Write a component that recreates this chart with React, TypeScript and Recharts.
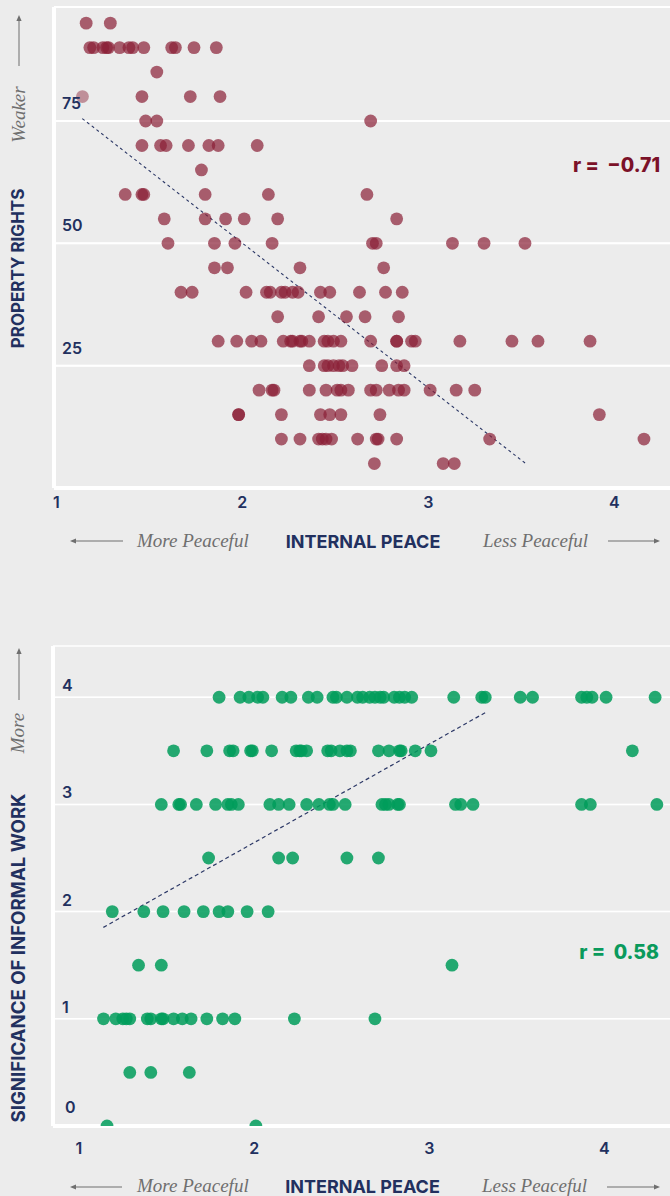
import React from 'react';
import { ScatterChart, Scatter, XAxis, YAxis, CartesianGrid, ReferenceLine } from 'recharts';

// ---------- Chart 1: Property rights vs internal peace ----------
const pr95 = [1.16, 1.29];
const pr90 = [1.18, 1.2, 1.25, 1.27, 1.28, 1.34, 1.39, 1.41, 1.47, 1.62, 1.64, 1.74, 1.86];
const pr85 = [1.54];
const pr80 = [1.46, 1.72, 1.88];
const pr80Faint = [1.14];
const pr75 = [1.48, 1.54, 2.69];
const pr70 = [1.46, 1.56, 1.59, 1.71, 1.82, 1.87, 2.08];
const pr65 = [1.78];
const pr60 = [1.37, 1.46, 1.47, 1.8, 2.14, 2.67];
const pr55 = [1.58, 1.8, 1.91, 2.01, 2.19, 2.83];
const pr50 = [1.6, 1.85, 1.96, 2.16, 2.7, 2.72, 3.13, 3.3, 3.52];
const pr45 = [1.85, 1.92, 2.31, 2.76];
const pr40 = [1.67, 1.73, 2.02, 2.13, 2.15, 2.21, 2.23, 2.27, 2.3, 2.42, 2.47, 2.63, 2.77, 2.86];
const pr35 = [2.19, 2.41, 2.56, 2.66, 2.84];
const pr30 = [1.87, 1.97, 2.05, 2.1, 2.22, 2.26, 2.27, 2.31, 2.32, 2.36, 2.44, 2.46, 2.49, 2.53, 2.69, 2.83, 2.83, 2.91, 2.93, 3.17, 3.45, 3.59, 3.87];
const pr25 = [2.36, 2.44, 2.46, 2.49, 2.52, 2.54, 2.59, 2.75, 2.83, 2.87];
const pr20 = [2.09, 2.16, 2.17, 2.36, 2.45, 2.51, 2.53, 2.57, 2.69, 2.72, 2.79, 2.84, 2.87, 3.01, 3.15, 3.25];
const pr15 = [1.98, 1.98, 2.21, 2.42, 2.47, 2.53, 2.74, 3.92];
const pr10 = [2.21, 2.31, 2.41, 2.43, 2.45, 2.48, 2.62, 2.72, 2.73, 2.83, 3.33, 4.16];
const pr05 = [2.71, 3.08, 3.14];

const rightsTicks = [25, 50, 75];
const rightsTrendPeace = [1.139, 3.524];
const rightsTrendScore = [75.5, 5.0];
const rightsR = 'r =\u00A0\u00A0\u22120.71';

// ---------- Chart 2: Significance of informal work vs internal peace ----------
const iw40 = [1.8, 1.92, 1.97, 2.02, 2.05, 2.16, 2.21, 2.31, 2.36, 2.45, 2.47, 2.53, 2.59, 2.62, 2.66, 2.69, 2.72, 2.74, 2.8, 2.83, 2.86, 2.9, 3.14, 3.3, 3.32, 3.52, 3.59, 3.87, 3.9, 3.93, 4.01, 4.29];
const iw35 = [1.54, 1.73, 1.86, 1.88, 1.98, 1.99, 2.1, 2.24, 2.26, 2.27, 2.3, 2.42, 2.44, 2.49, 2.53, 2.55, 2.71, 2.77, 2.83, 2.84, 2.92, 3.01, 4.16];
const iw30 = [1.47, 1.57, 1.58, 1.67, 1.78, 1.85, 1.87, 1.91, 2.09, 2.14, 2.2, 2.3, 2.37, 2.43, 2.45, 2.52, 2.73, 2.75, 2.77, 2.82, 2.83, 3.15, 3.18, 3.25, 3.87, 3.92, 4.3];
const iw25 = [1.74, 2.14, 2.22, 2.53, 2.71];
const iw20 = [1.19, 1.37, 1.48, 1.6, 1.71, 1.8, 1.85, 1.96, 2.08];
const iw15 = [1.34, 1.47, 3.13];
const iw10 = [1.14, 1.21, 1.25, 1.27, 1.29, 1.39, 1.41, 1.47, 1.48, 1.54, 1.59, 1.64, 1.73, 1.82, 1.89, 2.23, 2.69];
const iw05 = [1.29, 1.41, 1.63];
const iw00 = [1.16, 2.01];

const workTicks = [0, 1, 2, 3, 4];
const workTrendPeace = [1.139, 3.323];
const workTrendScore = [1.853, 3.859];
const workR = 'r =\u00A0\u00A00.58';

const peaceTicks = [1, 2, 3, 4];

function buildRows(rows: [number, number[]][]) {
  return rows.flatMap(([score, xs]) => xs.map((peace) => ({ peace, score })));
}

const rightsData = buildRows([
  [95, pr95], [90, pr90], [85, pr85], [80, pr80], [75, pr75], [70, pr70], [65, pr65],
  [60, pr60], [55, pr55], [50, pr50], [45, pr45], [40, pr40], [35, pr35], [30, pr30],
  [25, pr25], [20, pr20], [15, pr15], [10, pr10], [5, pr05],
]);
const rightsFaintData = buildRows([[80, pr80Faint]]);

const workData = buildRows([
  [4, iw40], [3.5, iw35], [3, iw30], [2.5, iw25], [2, iw20], [1.5, iw15], [1, iw10], [0.5, iw05], [0, iw00],
]);

const NAVY = '#22305f';
const GRAY = '#6f6f6f';
const BG = '#ececec';
const SANS = 'Inter, "Noto Sans", sans-serif';
const SERIF = '"Liberation Serif", serif';

const makeXTick = (baseline: number) => (props: any) => (
  <text x={props.x} y={baseline} textAnchor="middle" fill={NAVY} fontFamily={SANS} fontWeight={600} fontSize={16}>
    {props.payload.value}
  </text>
);

const makeYTick = (offset: number, zeroOffset: number) => (props: any) => {
  const v = props.payload.value;
  return (
    <text x={v === 0 ? 65 : 62} y={props.y - (v === 0 ? zeroOffset : offset)} textAnchor="start" fill={NAVY} fontFamily={SANS} fontWeight={600} fontSize={16}>
      {v}
    </text>
  );
};

const makeDot = (fill: string, opacity: number) => (p: any) => (
  <circle cx={p.cx} cy={p.cy} r={6.4} fill={fill} fillOpacity={opacity} />
);

function Arrow({ x1, y1, x2, y2 }: { x1: number; y1: number; x2: number; y2: number }) {
  const dx = x2 - x1;
  const dy = y2 - y1;
  const len = Math.hypot(dx, dy);
  const ux = dx / len;
  const uy = dy / len;
  const hl = 6;
  const hw = 2.6;
  const bx = x2 - ux * hl;
  const by = y2 - uy * hl;
  return (
    <g>
      <line x1={x1} y1={y1} x2={bx} y2={by} stroke={GRAY} strokeWidth={1} />
      <polygon
        points={`${x2},${y2} ${bx - uy * hw},${by + ux * hw} ${bx + uy * hw},${by - ux * hw}`}
        fill={GRAY}
      />
    </g>
  );
}

export default function App() {
  return (
    <div style={{ position: 'absolute', left: 0, top: 0, width: 670, height: 1196, background: BG, overflow: 'hidden' }}>
      {/* Chart 1 */}
      <div style={{ position: 'absolute', left: 0, top: 0 }}>
        <ScatterChart width={670} height={560} margin={{ top: 7, right: 0, bottom: 0, left: 0 }}>
          <CartesianGrid horizontal vertical={false} stroke="#ffffff" strokeWidth={2} />
          <XAxis
            type="number"
            dataKey="peace"
            domain={[0.987, 4.3]}
            ticks={peaceTicks}
            interval={0}
            allowDataOverflow
            tickLine={false}
            axisLine={{ stroke: '#ffffff', strokeWidth: 4 }}
            height={72}
            tick={makeXTick(508)}
          />
          <YAxis
            type="number"
            dataKey="score"
            domain={[0, 98.3]}
            ticks={rightsTicks}
            interval={0}
            allowDataOverflow
            tickLine={false}
            axisLine={{ stroke: '#ffffff', strokeWidth: 4 }}
            width={54}
            tick={makeYTick(12, 12)}
          />
          <Scatter data={rightsFaintData} isAnimationActive={false} shape={makeDot('#8a1f36', 0.45)} />
          <Scatter data={rightsData} isAnimationActive={false} shape={makeDot('#8a1f36', 0.7)} />
          {rightsTicks.map((t) => (
            <ReferenceLine key={t} y={t} stroke="#ffffff" strokeOpacity={0.45} strokeWidth={2} />
          ))}
          <ReferenceLine
            segment={[
              { x: rightsTrendPeace[0], y: rightsTrendScore[0] },
              { x: rightsTrendPeace[1], y: rightsTrendScore[1] },
            ]}
            stroke="#2c3866"
            strokeWidth={1.1}
            strokeDasharray="3 3"
          />
        </ScatterChart>
      </div>

      {/* Chart 2 */}
      <div style={{ position: 'absolute', left: 0, top: 600 }}>
        <ScatterChart width={670} height={596} margin={{ top: 46, right: 0, bottom: 0, left: 0 }}>
          <CartesianGrid horizontal vertical={false} stroke="#ffffff" strokeWidth={1.5} />
          <XAxis
            type="number"
            dataKey="peace"
            domain={[0.8515, 4.375]}
            ticks={peaceTicks}
            interval={0}
            allowDataOverflow
            tickLine={false}
            axisLine={{ stroke: '#ffffff', strokeWidth: 4 }}
            height={70}
            tick={makeXTick(554)}
          />
          <YAxis
            type="number"
            dataKey="score"
            domain={[0, 4.478]}
            ticks={workTicks}
            interval={0}
            allowDataOverflow
            tickLine={false}
            axisLine={{ stroke: '#ffffff', strokeWidth: 4 }}
            width={53}
            tick={makeYTick(6, 13)}
          />
          <Scatter data={workData} isAnimationActive={false} shape={makeDot('#009c5b', 0.85)} />
          {workTicks.filter((t) => t > 0).map((t) => (
            <ReferenceLine key={t} y={t} stroke="#ffffff" strokeOpacity={0.45} strokeWidth={1.5} />
          ))}
          <ReferenceLine
            segment={[
              { x: workTrendPeace[0], y: workTrendScore[0] },
              { x: workTrendPeace[1], y: workTrendScore[1] },
            ]}
            stroke="#2c3866"
            strokeWidth={1.2}
            strokeDasharray="4 3"
          />
        </ScatterChart>
      </div>

      {/* Annotations */}
      <svg width={670} height={1196} style={{ position: 'absolute', left: 0, top: 0, pointerEvents: 'none' }}>
        {/* Chart 1 labels */}
        <text x={660} y={171.5} textAnchor="end" fill="#7b1128" fontFamily={SANS} fontWeight={800} fontSize={19.5}>
          {rightsR}
        </text>
        <Arrow x1={19} y1={66} x2={19} y2={15} />
        <text transform="translate(24.5,114.5) rotate(-90)" textAnchor="middle" fill={GRAY} fontFamily={SERIF} fontStyle="italic" fontSize={19}>
          Weaker
        </text>
        <text transform="translate(24,268.5) rotate(-90)" textAnchor="middle" fill={NAVY} fontFamily={SANS} fontWeight={700} fontSize={17}>
          PROPERTY RIGHTS
        </text>
        <Arrow x1={123} y1={541} x2={70} y2={541} />
        <text x={137} y={547} fill={GRAY} fontFamily={SERIF} fontStyle="italic" fontSize={19}>
          More Peaceful
        </text>
        <text x={363} y={548} textAnchor="middle" fill={NAVY} fontFamily={SANS} fontWeight={700} fontSize={18}>
          INTERNAL PEACE
        </text>
        <text x={483} y={547} fill={GRAY} fontFamily={SERIF} fontStyle="italic" fontSize={19}>
          Less Peaceful
        </text>
        <Arrow x1={608} y1={541} x2={660} y2={541} />

        {/* Chart 2 labels */}
        <text x={659} y={959.3} textAnchor="end" fill="#0a9a5c" fontFamily={SANS} fontWeight={800} fontSize={19.5}>
          {workR}
        </text>
        <Arrow x1={19} y1={700} x2={19} y2={648} />
        <text transform="translate(24,733) rotate(-90)" textAnchor="middle" fill={GRAY} fontFamily={SERIF} fontStyle="italic" fontSize={19}>
          More
        </text>
        <text transform="translate(24.5,958) rotate(-90)" textAnchor="middle" fill={NAVY} fontFamily={SANS} fontWeight={700} fontSize={18.6}>
          SIGNIFICANCE OF INFORMAL WORK
        </text>
        <Arrow x1={122} y1={1187} x2={70} y2={1187} />
        <text x={137} y={1192} fill={GRAY} fontFamily={SERIF} fontStyle="italic" fontSize={19}>
          More Peaceful
        </text>
        <text x={362.5} y={1193} textAnchor="middle" fill={NAVY} fontFamily={SANS} fontWeight={700} fontSize={18}>
          INTERNAL PEACE
        </text>
        <text x={482} y={1192} fill={GRAY} fontFamily={SERIF} fontStyle="italic" fontSize={19}>
          Less Peaceful
        </text>
        <Arrow x1={607} y1={1187} x2={660} y2={1187} />
      </svg>
    </div>
  );
}
